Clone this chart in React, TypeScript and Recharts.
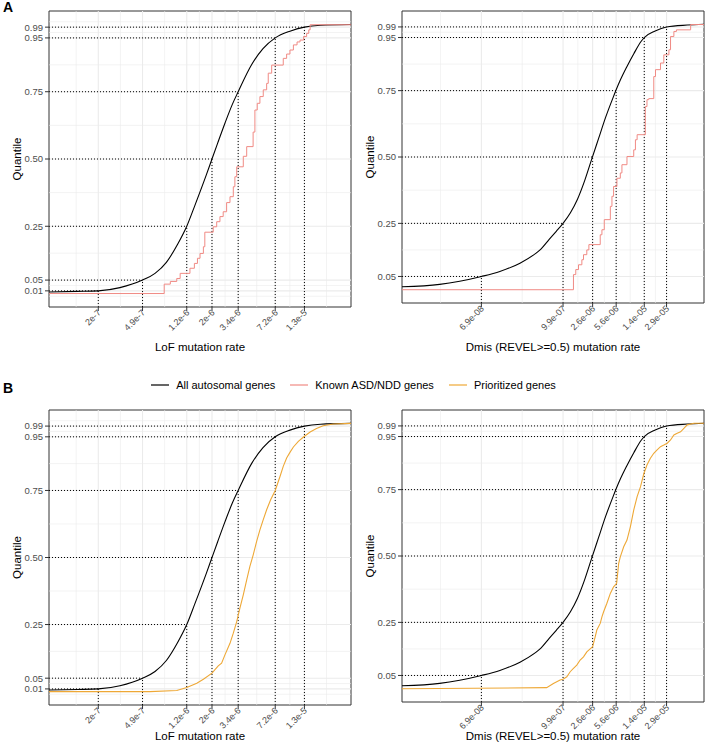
import React from 'react';
import { LineChart, Line, XAxis, YAxis, ReferenceLine, ReferenceArea } from 'recharts';

const FONT = '"Liberation Sans", Arial, Helvetica, sans-serif';
const BLACK = '#000000';
const RED = '#F08A84';
const GOLD = '#EEA836';
const GRID = '#EBEBEB';

type Pt = [number, number];

// ---------- LoF axis ----------
const lofDomain: [number, number] = [7.37e-8, 3.34e-5];
const lofTickValues = [2e-7, 4.9e-7, 1.2e-6, 2e-6, 3.4e-6, 7.2e-6, 1.3e-5];
const lofTickLabels = ['2e-7', '4.9e-7', '1.2e-6', '2e-6', '3.4e-6', '7.2e-6', '1.3e-5'];
const lofQuantiles = [0.01, 0.05, 0.25, 0.5, 0.75, 0.95, 0.99];

// ---------- Dmis axis ----------
const dmisDomain: [number, number] = [5.18e-9, 9.83e-5];
const dmisTickValues = [6.9e-8, 9.9e-7, 2.6e-6, 5.6e-6, 1.4e-5, 2.9e-5];
const dmisTickLabels = ['6.9e-08', '9.9e-07', '2.6e-06', '5.6e-06', '1.4e-05', '2.9e-05'];
const dmisQuantiles = [0.05, 0.25, 0.5, 0.75, 0.95, 0.99];

// ---------- All autosomal genes ----------
const allLof: Pt[] = [
  [7.37e-8, 0.006], [1.3e-7, 0.008], [2.0e-7, 0.01], [3.1e-7, 0.022], [4.9e-7, 0.05],
  [6.31e-7, 0.075], [7.94e-7, 0.116], [1.0e-6, 0.184], [1.2e-6, 0.25], [1.41e-6, 0.326],
  [1.78e-6, 0.44], [2.0e-6, 0.5], [2.24e-6, 0.558], [2.6e-6, 0.633], [3.02e-6, 0.703],
  [3.4e-6, 0.75], [4.47e-6, 0.851], [5.62e-6, 0.91], [7.2e-6, 0.95], [9.7e-6, 0.975],
  [1.3e-5, 0.99], [1.8e-5, 0.997], [3.34e-5, 1.0],
];
const allDmis: Pt[] = [
  [5.18e-9, 0.011], [1.77e-8, 0.02], [3.4e-8, 0.032], [6.9e-8, 0.05], [1.26e-7, 0.069],
  [2.43e-7, 0.1], [3.98e-7, 0.135], [4.68e-7, 0.15], [6.3e-7, 0.19], [7.94e-7, 0.22],
  [9.9e-7, 0.25], [1.26e-6, 0.29], [1.58e-6, 0.34], [2.0e-6, 0.41], [2.51e-6, 0.49],
  [3.16e-6, 0.57], [3.98e-6, 0.65], [5.0e-6, 0.72], [6.3e-6, 0.785], [7.94e-6, 0.84],
  [1.0e-5, 0.89], [1.26e-5, 0.935], [1.4e-5, 0.95], [2.0e-5, 0.975], [2.9e-5, 0.99],
  [5.7e-5, 0.997], [9.83e-5, 1.0],
];

// ---------- Known ASD/NDD genes (step) ----------
const asdLof: Pt[] = [
  [7.37e-8, 0.0], [7.6e-7, 0.035], [8.6e-7, 0.045], [9.8e-7, 0.056], [1.05e-6, 0.075],
  [1.28e-6, 0.094], [1.4e-6, 0.112], [1.49e-6, 0.131], [1.57e-6, 0.149], [1.68e-6, 0.174],
  [1.73e-6, 0.228], [2.05e-6, 0.248], [2.2e-6, 0.267], [2.35e-6, 0.286], [2.51e-6, 0.304],
  [2.69e-6, 0.338], [2.88e-6, 0.36], [3.08e-6, 0.397], [3.18e-6, 0.434], [3.3e-6, 0.471],
  [3.77e-6, 0.51], [4.04e-6, 0.546], [4.6e-6, 0.6], [4.77e-6, 0.682], [5.0e-6, 0.707],
  [5.28e-6, 0.732], [5.65e-6, 0.757], [6.05e-6, 0.781], [6.25e-6, 0.819], [6.7e-6, 0.849],
  [8.47e-6, 0.874], [9.07e-6, 0.89], [9.7e-6, 0.905], [1.04e-5, 0.924], [1.12e-5, 0.935],
  [1.19e-5, 0.942], [1.28e-5, 0.955], [1.36e-5, 0.967], [1.42e-5, 0.98], [1.46e-5, 0.999],
  [3.34e-5, 0.999],
];
const asdDmis: Pt[] = [
  [5.18e-9, 0.0], [1.39e-6, 0.057], [1.5e-6, 0.076], [1.64e-6, 0.094], [1.83e-6, 0.113],
  [1.93e-6, 0.132], [2.15e-6, 0.15], [2.3e-6, 0.17], [3.33e-6, 0.207], [3.52e-6, 0.226],
  [3.8e-6, 0.264], [4.63e-6, 0.314], [4.88e-6, 0.352], [5.15e-6, 0.389], [5.74e-6, 0.42],
  [6.41e-6, 0.44], [6.76e-6, 0.471], [7.97e-6, 0.502], [9.93e-6, 0.527], [1.05e-5, 0.565],
  [1.11e-5, 0.584], [1.45e-5, 0.69], [1.53e-5, 0.716], [1.62e-5, 0.72], [1.91e-5, 0.803],
  [2.02e-5, 0.829], [2.38e-5, 0.854], [2.65e-5, 0.885], [3.13e-5, 0.904], [3.3e-5, 0.954],
  [3.68e-5, 0.973], [4.0e-5, 0.979], [6.36e-5, 0.999], [9.83e-5, 0.999],
];

// ---------- Prioritized genes ----------
const priLof: Pt[] = [
  [7.37e-8, 0.0], [5.7e-7, 0.0], [9.8e-7, 0.004], [1.2e-6, 0.015], [1.47e-6, 0.031],
  [1.68e-6, 0.046], [2.0e-6, 0.069], [2.27e-6, 0.096], [2.43e-6, 0.106], [2.6e-6, 0.137],
  [2.88e-6, 0.18], [3.08e-6, 0.218], [3.3e-6, 0.261], [3.52e-6, 0.311], [3.77e-6, 0.361],
  [4.04e-6, 0.417], [4.31e-6, 0.467], [4.61e-6, 0.51], [4.94e-6, 0.56], [5.28e-6, 0.603],
  [5.65e-6, 0.641], [6.05e-6, 0.678], [6.56e-6, 0.715], [7.2e-6, 0.75], [7.93e-6, 0.802],
  [8.47e-6, 0.84], [9.07e-6, 0.871], [9.7e-6, 0.892], [1.04e-5, 0.912], [1.15e-5, 0.933],
  [1.3e-5, 0.952], [1.46e-5, 0.968], [1.66e-5, 0.981], [1.9e-5, 0.991], [2.33e-5, 0.998],
  [3.34e-5, 1.0],
];
const priDmis: Pt[] = [
  [5.18e-9, 0.0], [5.8e-7, 0.004], [7.23e-7, 0.02], [9.0e-7, 0.033], [9.9e-7, 0.036],
  [1.12e-6, 0.045], [1.25e-6, 0.064], [1.39e-6, 0.077], [1.55e-6, 0.089], [1.73e-6, 0.108],
  [1.93e-6, 0.12], [2.15e-6, 0.139], [2.4e-6, 0.15], [2.6e-6, 0.158], [2.83e-6, 0.196],
  [2.98e-6, 0.221], [3.33e-6, 0.246], [3.52e-6, 0.271], [3.72e-6, 0.29], [4.14e-6, 0.322],
  [4.63e-6, 0.359], [5.15e-6, 0.384], [5.69e-6, 0.397], [6.08e-6, 0.472], [6.41e-6, 0.497],
  [7.16e-6, 0.535], [7.97e-6, 0.56], [8.9e-6, 0.61], [9.93e-6, 0.673], [1.11e-5, 0.724],
  [1.24e-5, 0.761], [1.38e-5, 0.81], [1.53e-5, 0.843], [1.71e-5, 0.868], [1.91e-5, 0.887],
  [2.13e-5, 0.9], [2.38e-5, 0.912], [2.65e-5, 0.918], [2.96e-5, 0.925], [3.3e-5, 0.937],
  [3.68e-5, 0.956], [4.1e-5, 0.962], [4.58e-5, 0.968], [5.1e-5, 0.981], [5.69e-5, 0.994],
  [7.1e-5, 1.0], [9.83e-5, 1.0],
];

const legendItems = [
  { label: 'All autosomal genes', color: BLACK },
  { label: 'Known ASD/NDD genes', color: RED },
  { label: 'Prioritized genes', color: GOLD },
];

const Y_DOMAIN: [number, number] = [-0.05, 1.05];

const toData = (pts: Pt[]) => pts.map(([x, q]) => ({ x, q }));

function minorBreaks(ticks: number[], domain: [number, number], log: boolean): number[] {
  const f = (v: number) => (log ? Math.log10(v) : v);
  const inv = (v: number) => (log ? Math.pow(10, v) : v);
  const L = ticks.map(f);
  const lo = f(domain[0]);
  const hi = f(domain[1]);
  const bd = L[1] - L[0];
  const ext = [...L];
  if (lo < L[0]) ext.unshift(L[0] - bd);
  if (hi > L[L.length - 1]) ext.push(L[L.length - 1] + bd);
  const mids: number[] = [];
  for (let i = 0; i < ext.length - 1; i++) mids.push((ext[i] + ext[i + 1]) / 2);
  return mids.filter((m) => m > lo + 1e-9 && m < hi - 1e-9).map(inv);
}

type Series = { pts: Pt[]; color: string; type: 'monotone' | 'stepAfter' | 'linear'; width: number; name: string };

type PanelProps = {
  left: number;
  top: number;
  height: number;
  plotTop: number;
  plotBottom: number;
  titleBaseline: number;
  domain: [number, number];
  tickValues: number[];
  tickLabels: string[];
  quantiles: number[];
  series: Series[];
  xTitle: string;
};

function Panel(p: PanelProps) {
  const W = 353;
  const plotLeft = 49;
  const plotRight = 351;
  const xAxisH = 45;
  const marginBottom = p.height - p.plotBottom - xAxisH;
  const minorX = minorBreaks(p.tickValues, p.domain, true);
  const minorY = minorBreaks(p.quantiles, Y_DOMAIN, false);
  const cy = (p.plotTop + p.plotBottom) / 2;
  const cx = (plotLeft + plotRight) / 2;

  const labelFor = (v: number) => {
    let best = 0;
    let bd = Infinity;
    p.tickValues.forEach((t, i) => {
      const d = Math.abs(Math.log10(t) - Math.log10(v));
      if (d < bd) {
        bd = d;
        best = i;
      }
    });
    return p.tickLabels[best];
  };

  const XTick = (tp: any) => {
    const { x, y, payload } = tp;
    return (
      <g transform={`translate(${x + 1},${y})`}>
        <text
          x={0}
          y={0}
          dy="0.35em"
          textAnchor="end"
          transform="rotate(-45)"
          fontSize={9}
          fill="#4D4D4D"
          fontFamily={FONT}
        >
          {labelFor(payload.value)}
        </text>
      </g>
    );
  };

  return (
    <div style={{ position: 'absolute', left: p.left, top: p.top, width: W, height: p.height }}>
      <LineChart
        width={W}
        height={p.height}
        margin={{ top: p.plotTop, right: W - plotRight, bottom: marginBottom, left: 0 }}
      >
        <XAxis
          type="number"
          dataKey="x"
          scale="log"
          domain={p.domain}
          allowDataOverflow
          ticks={p.tickValues}
          interval={0}
          tick={XTick}
          tickSize={4}
          tickMargin={0}
          tickLine={{ stroke: '#333333' }}
          axisLine={false}
          height={xAxisH}
          label={() => (
            <text x={cx} y={p.titleBaseline} textAnchor="middle" fontSize={11.5} fill="#000" fontFamily={FONT}>
              {p.xTitle}
            </text>
          )}
        />
        <YAxis
          type="number"
          dataKey="q"
          domain={Y_DOMAIN}
          allowDataOverflow
          ticks={p.quantiles}
          interval={0}
          width={plotLeft}
          tickSize={4}
          tickMargin={2}
          axisLine={false}
          tickLine={{ stroke: '#333333' }}
          tick={{ fontSize: 9.5, fill: '#4D4D4D', fontFamily: FONT }}
          tickFormatter={(v: number) => v.toFixed(2)}
          label={() => (
            <text
              x={17}
              y={cy}
              transform={`rotate(-90, 17, ${cy})`}
              textAnchor="middle"
              dominantBaseline="central"
              fontSize={11.5}
              fill="#000"
              fontFamily={FONT}
            >
              Quantile
            </text>
          )}
        />
        {minorY.map((v) => (
          <ReferenceLine key={'my' + v} y={v} stroke={GRID} strokeWidth={0.6} />
        ))}
        {minorX.map((v) => (
          <ReferenceLine key={'mx' + v} x={v} stroke={GRID} strokeWidth={0.6} />
        ))}
        {p.quantiles.map((v) => (
          <ReferenceLine key={'gy' + v} y={v} stroke={GRID} strokeWidth={1.1} />
        ))}
        {p.tickValues.map((v) => (
          <ReferenceLine key={'gx' + v} x={v} stroke={GRID} strokeWidth={1.1} />
        ))}
        {p.quantiles.map((q, i) => (
          <ReferenceLine
            key={'dh' + q}
            segment={[
              { x: p.domain[0], y: q },
              { x: p.tickValues[i], y: q },
            ]}
            stroke="#000"
            strokeWidth={1}
            strokeDasharray="1 2"
            ifOverflow="visible"
          />
        ))}
        {p.quantiles.map((q, i) => (
          <ReferenceLine
            key={'dv' + q}
            segment={[
              { x: p.tickValues[i], y: Y_DOMAIN[0] },
              { x: p.tickValues[i], y: q },
            ]}
            stroke="#000"
            strokeWidth={1}
            strokeDasharray="1 2"
            ifOverflow="visible"
          />
        ))}
        {p.series.map((s) => (
          <Line
            key={s.name}
            data={toData(s.pts)}
            dataKey="q"
            type={s.type}
            stroke={s.color}
            strokeWidth={s.width}
            dot={false}
            activeDot={false}
            isAnimationActive={false}
            legendType="none"
          />
        ))}
        <ReferenceArea
          x1={p.domain[0]}
          x2={p.domain[1]}
          y1={Y_DOMAIN[0]}
          y2={Y_DOMAIN[1]}
          fill="none"
          fillOpacity={0}
          stroke="#333333"
          strokeWidth={1}
          ifOverflow="visible"
        />
      </LineChart>
    </div>
  );
}

export default function App() {
  const lofA: Series[] = [
    { name: 'all', pts: allLof, color: BLACK, type: 'monotone', width: 1.1 },
    { name: 'asd', pts: asdLof, color: RED, type: 'stepAfter', width: 1 },
  ];
  const dmisA: Series[] = [
    { name: 'all', pts: allDmis, color: BLACK, type: 'monotone', width: 1.1 },
    { name: 'asd', pts: asdDmis, color: RED, type: 'stepAfter', width: 1 },
  ];
  const lofB: Series[] = [
    { name: 'all', pts: allLof, color: BLACK, type: 'monotone', width: 1.1 },
    { name: 'pri', pts: priLof, color: GOLD, type: 'linear', width: 1.1 },
  ];
  const dmisB: Series[] = [
    { name: 'all', pts: allDmis, color: BLACK, type: 'monotone', width: 1.1 },
    { name: 'pri', pts: priDmis, color: GOLD, type: 'linear', width: 1.1 },
  ];

  return (
    <div
      style={{
        position: 'absolute',
        left: 0,
        top: 0,
        width: 706,
        height: 753,
        background: '#fff',
        overflow: 'hidden',
        fontFamily: FONT,
      }}
    >
      <Panel
        left={0}
        top={0}
        height={360}
        plotTop={11}
        plotBottom={307}
        titleBaseline={351}
        domain={lofDomain}
        tickValues={lofTickValues}
        tickLabels={lofTickLabels}
        quantiles={lofQuantiles}
        series={lofA}
        xTitle="LoF mutation rate"
      />
      <Panel
        left={353}
        top={0}
        height={360}
        plotTop={11}
        plotBottom={303}
        titleBaseline={351}
        domain={dmisDomain}
        tickValues={dmisTickValues}
        tickLabels={dmisTickLabels}
        quantiles={dmisQuantiles}
        series={dmisA}
        xTitle="Dmis (REVEL>=0.5) mutation rate"
      />
      <Panel
        left={0}
        top={398}
        height={355}
        plotTop={12}
        plotBottom={307}
        titleBaseline={342}
        domain={lofDomain}
        tickValues={lofTickValues}
        tickLabels={lofTickLabels}
        quantiles={lofQuantiles}
        series={lofB}
        xTitle="LoF mutation rate"
      />
      <Panel
        left={353}
        top={398}
        height={355}
        plotTop={12}
        plotBottom={304}
        titleBaseline={342}
        domain={dmisDomain}
        tickValues={dmisTickValues}
        tickLabels={dmisTickLabels}
        quantiles={dmisQuantiles}
        series={dmisB}
        xTitle="Dmis (REVEL>=0.5) mutation rate"
      />
      <div style={{ position: 'absolute', left: 3, top: 0, fontSize: 14, fontWeight: 'bold', lineHeight: '14px' }}>A</div>
      <div style={{ position: 'absolute', left: 3, top: 381, fontSize: 14, fontWeight: 'bold', lineHeight: '14px' }}>B</div>
      <div
        style={{
          position: 'absolute',
          left: 0,
          top: 376,
          width: 706,
          height: 18,
          display: 'flex',
          justifyContent: 'center',
          alignItems: 'center',
          gap: 14,
          fontSize: 11,
          color: '#000',
        }}
      >
        {legendItems.map((it) => (
          <div key={it.label} style={{ display: 'flex', alignItems: 'center' }}>
            <svg width={20} height={10}>
              <line x1={1} x2={19} y1={5} y2={5} stroke={it.color} strokeWidth={1.2} />
            </svg>
            <span style={{ marginLeft: 6 }}>{it.label}</span>
          </div>
        ))}
      </div>
    </div>
  );
}
